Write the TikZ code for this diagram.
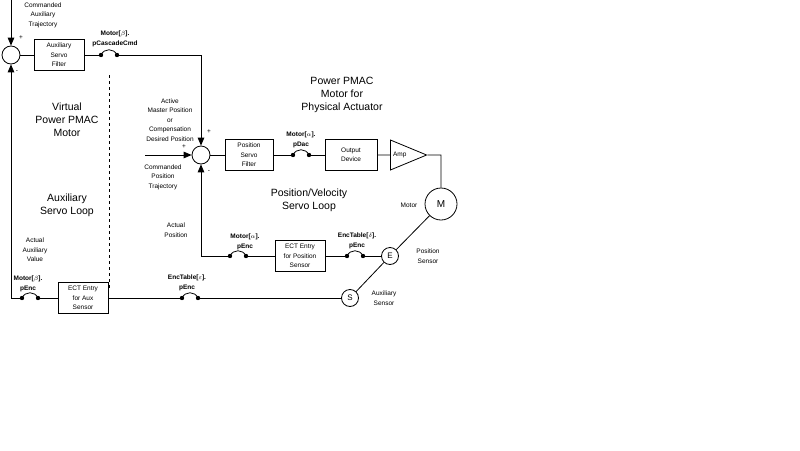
\documentclass[tikz,border=0pt]{standalone}
\usepackage{fontspec}
\setmainfont{Liberation Sans}
\usetikzlibrary{arrows,calc,shapes.geometric}

\begin{document}
\begin{tikzpicture}[x=1pt,y=-1pt, line width=.8pt,
  txt/.style={align=center,font=\fontsize{6.5}{9.5}\selectfont},
  bold/.style={txt,font=\fontsize{6.5}{9.5}\selectfont\bfseries},
  big/.style={align=center,font=\fontsize{10.5}{13}\selectfont},
  blk/.style={draw,txt,minimum width=50pt,minimum height=31pt,inner sep=1pt},
  sum/.style={circle,draw,minimum size=18pt,inner sep=0pt},
  sens/.style={circle,draw,minimum size=17pt,inner sep=0pt,font=\fontsize{8}{9}\selectfont},
  jumper/.pic={
    \coordinate (-l) at (-8,0); \coordinate (-r) at (8,0);
    \fill (-l) circle (2.2); \fill (-r) circle (2.2);
    \draw (-l) .. controls (-5,-7) and (5,-7) .. (-r);
  }]
\useasboundingbox (0,0) rectangle (800,450);

% auxiliary (virtual) motor
\node[sum] (s1) at (11,55) {};
\coordinate (cin1) at (11,0);
\node[txt] at (43,15) {Commanded\\Auxiliary\\Trajectory};
\node[txt] at (21,38) {+};
\node[txt] at (17,72) {-};
\node[blk] (asf) at (59,55) {Auxiliary\\Servo\\Filter};
\pic (j1) at (109,55) {jumper};
\node[bold] at (115,39) {Motor[$\beta$].\\pCascadeCmd};
\coordinate (c1) at (201,55);
\draw[dashed,line width=.6pt] (109,75) -- (109,288);
\node[big] at (67,120) {Virtual\\Power PMAC\\Motor};
\node[big] at (67,205) {Auxiliary\\Servo Loop};
\node[txt] at (35,250) {Actual\\Auxiliary\\Value};

% physical motor
\node[sum] (s2) at (201,155) {};
\node[txt] at (170,120) {Active\\Master Position\\or\\Compensation\\Desired Position};
\node[txt] at (209,132) {+};
\coordinate (cin2) at (145,155);
\node[txt] at (184,147) {+};
\node[txt] at (163,177) {Commanded\\Position\\Trajectory};
\node[txt] at (209,172) {-};
\node[blk,minimum width=48pt] (psf) at (249,155) {Position\\Servo\\Filter};
\pic (j2) at (301,155) {jumper};
\node[bold] at (301,140) {Motor[$\alpha$].\\pDac};
\node[blk,minimum width=52pt] (od) at (351,155) {Output\\Device};
\node[isosceles triangle,draw,minimum height=34pt,minimum width=30pt,inner sep=0pt,txt,
  anchor=west] (amp) at (390,155) {Amp\hspace*{6pt}};
\coordinate (c2) at (441,155);
\node[circle,draw,minimum size=32pt,inner sep=0pt,font=\fontsize{10}{11}\selectfont] (mot) at (441,204) {M};
\node[txt] at (409,205) {Motor};
\node[big] at (342,95) {Power PMAC\\Motor for\\Physical Actuator};
\node[big] at (309,200) {Position/Velocity\\Servo Loop};

% feedback
\node[sens] (enc) at (390,256) {E};
\node[txt] at (428,256) {Position\\Sensor};
\node[sens] (aux) at (350,298) {S};
\node[txt] at (384,298) {Auxiliary\\Sensor};
\pic (j3) at (238,256) {jumper};
\node[bold] at (245,242) {Motor[$\alpha$].\\pEnc};
\node[blk] (ectp) at (300,256) {ECT Entry\\for Position\\Sensor};
\pic (j4) at (355,256) {jumper};
\node[bold] at (357,241) {EncTable[$\delta$].\\pEnc};
\coordinate (c3) at (201,256);
\node[txt] at (176,230) {Actual\\Position};
\pic (j5) at (190,298) {jumper};
\node[bold] at (187,283) {EncTable[$\varepsilon$].\\pEnc};
\node[blk] (ecta) at (83,298) {ECT Entry\\for Aux\\Sensor};
\pic (j6) at (30,298) {jumper};
\node[bold] at (28,284) {Motor[$\beta$].\\pEnc};
\coordinate (c4) at (11,298);

% connectors
\draw[-triangle 45] (cin1) -- (s1);
\draw (s1) -- (asf);
\draw (asf) -- (j1-l);
\draw[-triangle 45] (j1-r) -- (c1) -- (s2);
\draw[-triangle 45] (cin2) -- (s2);
\draw (s2) -- (psf);
\draw (psf) -- (j2-l);
\draw (j2-r) -- (od);
\draw (od) -- (amp);
\draw (amp.apex) -- (c2) -- (mot);
\draw (mot) -- (enc);
\draw (enc) -- (aux);
\draw (enc) -- (j4-r);
\draw (j4-l) -- (ectp);
\draw (ectp) -- (j3-r);
\draw[-triangle 45] (j3-l) -- (c3) -- (s2);
\draw (aux) -- (j5-r);
\draw (j5-l) -- (ecta);
\draw (ecta) -- (j6-r);
\draw[-triangle 45] (j6-l) -- (c4) -- (s1);
\end{tikzpicture}
\end{document}
